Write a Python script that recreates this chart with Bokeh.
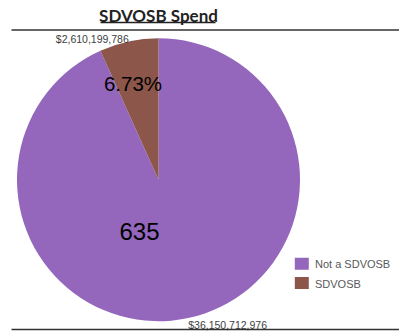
import math
from bokeh.plotting import figure
from bokeh.models import Range1d
from bokeh.core.properties import value
from bokeh.embed import file_html
from bokeh.resources import INLINE

# ---- data ----
categories = ["Not a SDVOSB", "SDVOSB"]
spend = [36150712976, 2610199786]
colors = ["#9467bd", "#8c564b"]
spend_labels = ["$36,150,712,976", "$2,610,199,786"]
pct_label = "6.73%"
count_label = "635"
title = "SDVOSB Spend"

# ---- layout (picture pixel geometry, origin at figure top-left) ----
W, H = 399, 331


def py(page_y):
    return H - page_y


p = figure(width=W, height=H, output_backend="svg", toolbar_location=None,
           x_range=Range1d(0, W), y_range=Range1d(0, H), min_border=0)
p.axis.visible = False
p.grid.visible = False
p.outline_line_color = None
p.background_fill_color = "white"
p.border_fill_color = "white"

cx, cy, r = 158.0, py(179.2), 141.5

total = float(sum(spend))
fr = [v / total for v in spend]
start = math.pi / 2
a_sd = 2 * math.pi * fr[1]
angles = {"SDVOSB": (start, start + a_sd),
          "Not a SDVOSB": (start + a_sd, start + 2 * math.pi)}
starts = [angles[c][0] for c in categories]
ends = [angles[c][1] for c in categories]

p.wedge(x=cx, y=cy, radius=r, start_angle=starts, end_angle=ends,
        fill_color=colors, line_color=None, direction="anticlock")

# outside value labels at each slice's mid angle
label_dy = [-7, 2]
for i, c in enumerate(categories):
    mid = (starts[i] + ends[i]) / 2
    lx = cx + r * math.cos(mid)
    ly = cy + r * math.sin(mid) + label_dy[i]
    align = "left" if math.cos(mid) >= 0 else "right"
    p.text(x=[lx], y=[ly], text=[spend_labels[i]], text_align=align,
           text_baseline="middle", text_font=value("Liberation Sans"),
           text_font_size="10.5px", text_color="#404040")

# inner labels
p.text(x=[132.5], y=[py(83)], text=[pct_label], text_align="center",
       text_baseline="middle", text_font=value("Liberation Sans"),
       text_font_size="20.5px", text_color="#000000")
p.text(x=[139], y=[py(231)], text=[count_label], text_align="center",
       text_baseline="middle", text_font=value("Liberation Sans"),
       text_font_size="24px", text_color="#000000")

# title with underline
p.text(x=[158], y=[py(14.5)], text=[title], text_align="center",
       text_baseline="middle", text_font=value("Lato"), text_font_style="bold",
       text_font_size="17px", text_color="#222222")
p.segment(x0=[100], y0=[py(22)], x1=[215], y1=[py(22)], line_color="#222222",
          line_width=1.3)

# horizontal rules
p.segment(x0=[11, 11], y0=[py(29.5), py(329)], x1=[399, 399],
          y1=[py(29.5), py(329)], line_color="#333333", line_width=1.5)

# legend
leg_y = [263.3, 282.5]
for i, c in enumerate(categories):
    p.rect(x=[301.3], y=[py(leg_y[i])], width=14, height=12,
           fill_color=colors[i], line_color=None)
    p.text(x=[314.5], y=[py(leg_y[i] + 0.5)], text=[c], text_align="left",
           text_baseline="middle", text_font=value("Liberation Sans"),
           text_font_size="11px", text_color="#595959")

open("out.html", "w").write(file_html(p, INLINE))
